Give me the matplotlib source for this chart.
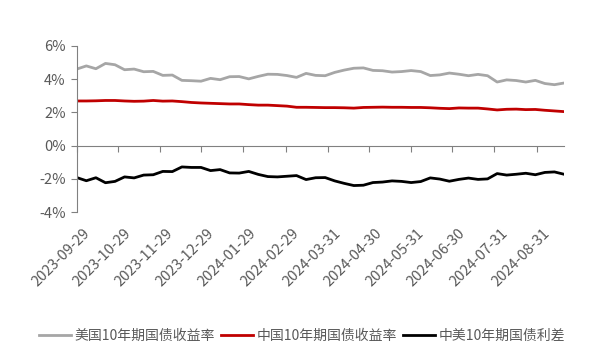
import matplotlib
matplotlib.use('Agg')
import matplotlib.pyplot as plt
import matplotlib.dates as mdates
import matplotlib.transforms as mtransforms
from matplotlib.ticker import FuncFormatter
import pandas as pd

plt.rcParams['font.family'] = ['Noto Sans CJK SC', 'DejaVu Sans']

# weekly data, Fridays
startDate = '2023-09-29'
numWeeks = 52

usYield = [4.61, 4.80, 4.63, 4.95, 4.87, 4.57, 4.61, 4.45, 4.47, 4.23,
           4.25, 3.93, 3.91, 3.88, 4.05, 3.97, 4.15, 4.16, 4.02, 4.17,
           4.30, 4.29, 4.22, 4.11, 4.35, 4.23, 4.21, 4.41, 4.55, 4.66,
           4.68, 4.53, 4.51, 4.43, 4.46, 4.52, 4.46, 4.22, 4.26, 4.37,
           4.30, 4.21, 4.29, 4.21, 3.83, 3.96, 3.92, 3.83, 3.93, 3.74,
           3.67, 3.77]
cnYield = [2.69, 2.69, 2.70, 2.72, 2.72, 2.69, 2.67, 2.68, 2.72, 2.68,
           2.69, 2.65, 2.60, 2.57, 2.55, 2.53, 2.51, 2.51, 2.47, 2.44,
           2.44, 2.41, 2.38, 2.31, 2.31, 2.30, 2.29, 2.29, 2.28, 2.26,
           2.30, 2.31, 2.32, 2.31, 2.31, 2.30, 2.30, 2.28, 2.25, 2.23,
           2.27, 2.26, 2.26, 2.21, 2.15, 2.19, 2.20, 2.17, 2.18, 2.13,
           2.09, 2.05]
spread = [-1.92, -2.11, -1.93, -2.23, -2.15, -1.88, -1.94, -1.77, -1.75, -1.55,
          -1.56, -1.28, -1.31, -1.31, -1.50, -1.44, -1.64, -1.65, -1.55, -1.73,
          -1.86, -1.88, -1.84, -1.80, -2.04, -1.93, -1.92, -2.12, -2.27, -2.40,
          -2.38, -2.22, -2.19, -2.12, -2.15, -2.22, -2.16, -1.94, -2.01, -2.14,
          -2.03, -1.95, -2.03, -2.00, -1.68, -1.77, -1.72, -1.66, -1.75, -1.61,
          -1.58, -1.72]

tickLabels = ['2023-09-29', '2023-10-29', '2023-11-29', '2023-12-29',
              '2024-01-29', '2024-02-29', '2024-03-31', '2024-04-30',
              '2024-05-31', '2024-06-30', '2024-07-31', '2024-08-31']
yTicks = [-4, -2, 0, 2, 4, 6]
seriesNames = ['美国10年期国债收益率', '中国10年期国债收益率', '中美10年期国债利差']

dates = pd.date_range(startDate, periods=numWeeks, freq='7D')
xNum = mdates.date2num(dates)
tickPos = mdates.date2num(pd.to_datetime(tickLabels))

textColor = '#595959'
axisColor = '#808080'

fig = plt.figure(figsize=(6, 3.62), dpi=100)
ax = fig.add_axes([0.128, 0.414, 0.812, 0.459])

ax.plot(xNum, usYield, color='#a6a6a6', lw=2, label=seriesNames[0])
ax.plot(xNum, cnYield, color='#c00000', lw=2, label=seriesNames[1])
ax.plot(xNum, spread, color='#000000', lw=2, label=seriesNames[2])

ax.set_xlim(xNum[0], xNum[-1])
ax.set_ylim(-4, 6)
ax.set_yticks(yTicks)
ax.yaxis.set_major_formatter(FuncFormatter(lambda v, p: f'{v:.0f}%'))

for s in ['top', 'right']:
    ax.spines[s].set_visible(False)
ax.spines['left'].set_color(axisColor)
ax.spines['bottom'].set_color(axisColor)
ax.spines['bottom'].set_position(('data', 0))

ax.tick_params(axis='y', direction='out', length=4, color=axisColor,
               labelcolor=textColor, labelsize=10.5, pad=4)
ax.set_xticks(tickPos)
ax.tick_params(axis='x', direction='out', length=4, color=axisColor,
               labelbottom=False)

# date labels sit under the plot, not on the zero line
sec = ax.secondary_xaxis(0.0)
sec.set_xticks(tickPos)
sec.set_xticklabels(tickLabels, rotation=45, ha='right', rotation_mode='anchor')
sec.tick_params(length=0, labelcolor=textColor, labelsize=10.5, pad=10)
sec.spines['bottom'].set_visible(False)
shift = mtransforms.ScaledTranslation(0.06, 0, fig.dpi_scale_trans)
for lbl in sec.get_xticklabels():
    lbl.set_transform(lbl.get_transform() + shift)

handles, labels = ax.get_legend_handles_labels()
fig.legend(handles, labels, loc='center', bbox_to_anchor=(0.503, 0.072),
           ncol=3, frameon=False, fontsize=10, handlelength=2.3,
           handletextpad=0.25, columnspacing=0.45, labelcolor=textColor)

fig.savefig('out.png', dpi=100)
